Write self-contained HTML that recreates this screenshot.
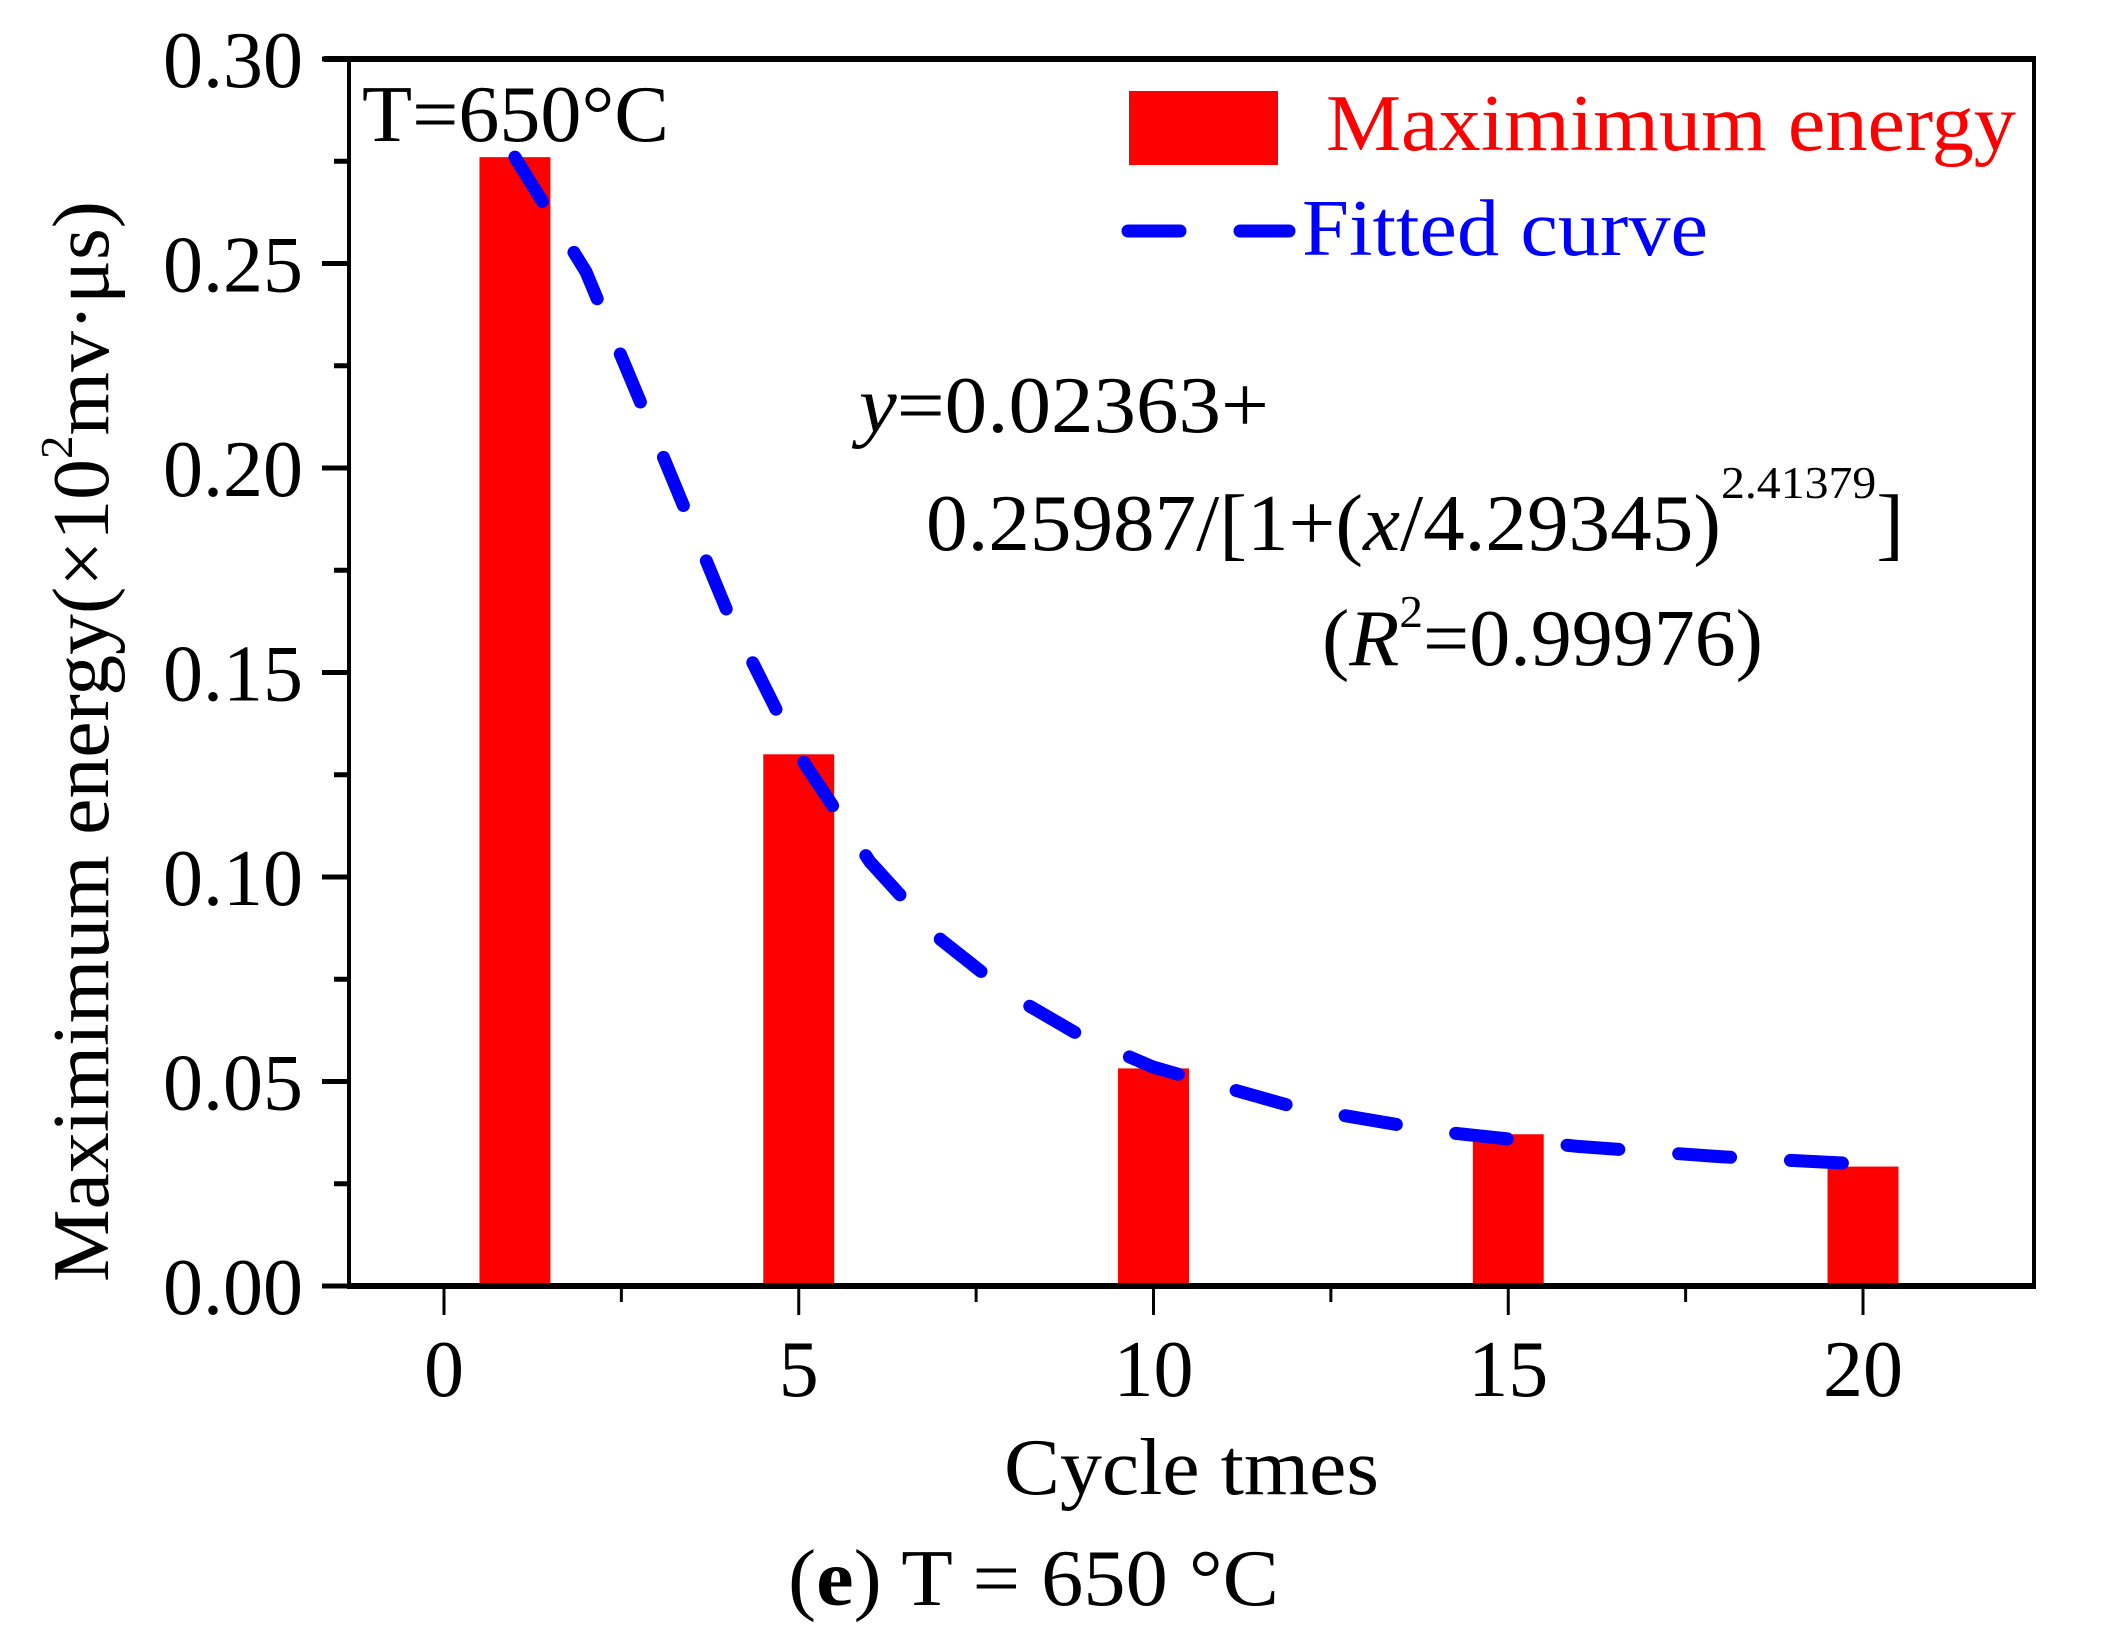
<!DOCTYPE html>
<html><head><meta charset="utf-8"><style>
html,body{margin:0;padding:0;background:#fff}
svg{display:block;font-family:"Liberation Serif","DejaVu Serif",serif}
</style></head><body>
<svg id="chart" xmlns="http://www.w3.org/2000/svg" width="2105" height="1648" viewBox="0 0 2105 1648">
<rect x="0" y="0" width="2105" height="1648" fill="#fff"/>
<g id="bars"></g>
<g id="curve"></g>
<rect x="349" y="59" width="1685" height="1227" fill="none" stroke="#000" stroke-width="4"/>
<line x1="347" y1="1286" x2="2036" y2="1286" stroke="#000" stroke-width="6"/>
<line x1="324" y1="59" x2="2036" y2="59" stroke="#000" stroke-width="6"/>
<g id="yticks"></g>
<g id="xticks"></g>
<text x="362" y="141" font-size="80" textLength="307" lengthAdjust="spacingAndGlyphs">T=650°C</text>
<rect x="1129" y="91" width="149" height="74" fill="#ff0000"/>
<text x="1326" y="150" font-size="80" fill="#ff0000" textLength="690" lengthAdjust="spacingAndGlyphs">Maximimum energy</text>
<line x1="1128" y1="231" x2="1289" y2="231" stroke="#0000ff" stroke-width="13" stroke-linecap="round" stroke-dasharray="52 60"/>
<text x="1302" y="255" font-size="80" fill="#0000ff" textLength="406" lengthAdjust="spacingAndGlyphs">Fitted curve</text>
<text x="859" y="432" font-size="80" textLength="410" lengthAdjust="spacingAndGlyphs"><tspan font-style="italic">y</tspan>=0.02363+</text>
<text x="926" y="550" font-size="80" textLength="978" lengthAdjust="spacingAndGlyphs">0.25987/[1+(<tspan font-style="italic">x</tspan>/4.29345)<tspan font-size="46" dy="-52">2.41379</tspan><tspan dy="52">]</tspan></text>
<text x="1322" y="665" font-size="80" textLength="441" lengthAdjust="spacingAndGlyphs">(<tspan font-style="italic">R</tspan><tspan font-size="46" dy="-38">2</tspan><tspan dy="38">=0.99976)</tspan></text>
<text x="1004" y="1494" font-size="80" textLength="375" lengthAdjust="spacingAndGlyphs">Cycle tmes</text>
<text x="788" y="1605" font-size="80" textLength="491" lengthAdjust="spacingAndGlyphs">(<tspan font-weight="bold">e</tspan>) T = 650 °C</text>
<text transform="translate(108,1282) rotate(-90)" x="0" y="0" font-size="80" textLength="1081" lengthAdjust="spacingAndGlyphs">Maximimum energy(×10<tspan font-size="46" dy="-36">2</tspan><tspan dy="36">mv·μs)</tspan></text>
</svg>
<script>
const barCycles=[1,5,10,15,20];
const barValues=[0.276,0.130,0.0532,0.0371,0.0292];
const curveX=[1,2,3,4,5,6,7,8,9,10,12,14,16,18,20];
const curveY=[0.276,0.248,0.2065,0.1646,0.1299,0.1038,0.0847,0.0710,0.0609,0.0535,0.0437,0.0378,0.0341,0.0316,0.0298];
const yTicks=[0,0.05,0.10,0.15,0.20,0.25,0.30];
const yTickLabels=["0.00","0.05","0.10","0.15","0.20","0.25","0.30"];
const xTicks=[0,5,10,15,20];
const xTickLabels=["0","5","10","15","20"];
const NS="http://www.w3.org/2000/svg";
const X0=444,X20=1863,Y0=1286,Y30=59;
function sx(v){return X0+(X20-X0)*v/20;}
function sy(v){return Y0-(Y0-Y30)*v/0.30;}
function mk(tag,attrs,parent){const e=document.createElementNS(NS,tag);for(const k in attrs)e.setAttribute(k,attrs[k]);parent.appendChild(e);return e;}
const bw=sx(1)-sx(0);
const gb=document.getElementById('bars');
barCycles.forEach((c,i)=>{
  const r=mk('rect',{x:sx(c)-bw/2,y:sy(barValues[i]),width:bw,height:Y0-sy(barValues[i]),fill:'#ff0000'},gb);
  
  
});
const gc=document.getElementById('curve');
const pts=curveX.map((x,i)=>sx(x)+','+sy(curveY[i])).join(' ');
const pl=mk('polyline',{points:pts,fill:'none',stroke:'#0000ff','stroke-width':13,'stroke-linecap':'round','stroke-linejoin':'round','stroke-dasharray':'52 60'},gc);


const gy=document.getElementById('yticks');
yTicks.forEach((t,i)=>{
  const l=mk('line',{x1:322,y1:sy(t),x2:349,y2:sy(t),stroke:'#000','stroke-width':5},gy);
  
  
  const tx=mk('text',{x:303,y:sy(t)+28,'font-size':80,'text-anchor':'end'},gy);
  tx.textContent=yTickLabels[i];
  
  
  if(i<yTicks.length-1){
    const m=mk('line',{x1:334,y1:sy(t+0.025),x2:349,y2:sy(t+0.025),stroke:'#000','stroke-width':5},gy);
    
    
  }
});
const gx=document.getElementById('xticks');
xTicks.forEach((t,i)=>{
  const l=mk('line',{x1:sx(t),y1:1286,x2:sx(t),y2:1315,stroke:'#000','stroke-width':3},gx);
  
  
  const tx=mk('text',{x:sx(t),y:1396,'font-size':80,'text-anchor':'middle'},gx);
  tx.textContent=xTickLabels[i];
  
  
  if(i<xTicks.length-1){
    const m=mk('line',{x1:sx(t+2.5),y1:1286,x2:sx(t+2.5),y2:1302,stroke:'#000','stroke-width':3},gx);
    
    
  }
});
</script>
</body></html>
